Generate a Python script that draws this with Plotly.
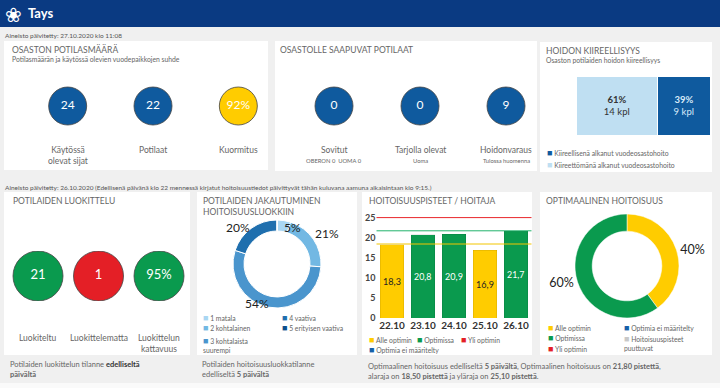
import plotly.graph_objects as go

W, H = 720, 388
def X(px): return px / W
def Y(py): return 1 - py / H

FONT = "Lato, 'Noto Sans', sans-serif"
GREY = "#666666"
DARK = "#333333"
BLUE = "#0f5a9e"
YELLOW = "#ffcc00"
GREEN = "#0a9a4e"
RED = "#e41f26"

# ---------------- data ----------------
header_title = "Tays"
update_top = "Aineisto päivitetty: 27.10.2020 klo 11:08"
update_bottom = ("Aineisto päivitetty: 26.10.2020 (Edellisenä päivänä klo 22 mennessä kirjatut "
                 "hoitoisuustiedot päivittyvät tähän kuluvana aamuna aikaisintaan klo 9:15.)")

load_labels = ["Käytössä<br>olevat sijat", "Potilaat", "Kuormitus"]
beds_in_use = 24
patients = 22
load_values = [str(beds_in_use), str(patients), f"{round(patients / beds_in_use * 100)}%"]

arrive_labels = ["Sovitut", "Tarjolla olevat", "Hoidonvaraus"]
arrive_sublabels = ["OBERON 0  UOMA 0", "Uoma", "Tulossa huomenna"]
arrive_values = [0, 0, 9]

urgency_labels = ["Kiireettömänä alkanut vuodeosastohoito", "Kiireellisenä alkanut vuodeosastohoito"]
urgency_counts = [14, 9]

class_labels = ["Luokiteltu", "Luokittelematta", "Luokittelun<br>kattavuus"]
classified = 21
unclassified = 1
class_values = [str(classified), str(unclassified), f"{round(classified / (classified + unclassified) * 100)}%"]

care_classes = ["1 matala", "2 kohtalainen", "3 kohtalaista suurempi", "4 vaativa", "5 erityisen vaativa"]
care_share = [5, 21, 54, 20, 0]

score_dates = ["22.10", "23.10", "24.10", "25.10", "26.10"]
score_values = [18.3, 20.8, 20.9, 16.9, 21.7]
score_status = ["Alle optimin", "Optimissa", "Optimissa", "Alle optimin", "Optimissa"]
status_names = ["Alle optimin", "Optimissa", "Yli optimin", "Optimia ei määritelty", "Hoitoisuuspisteet puuttuvat"]
optimum, lower_limit, upper_limit = 21.8, 18.5, 25.1

optimal_labels = ["Alle optimin", "Optimissa"]
optimal_days = [2, 3]

# ---------------- styling ----------------
care_colors = ["#a9d6f2", "#72b8e3", "#4a95cd", "#1f6fae", "#0b4f8c"]
care_label_pos = [(292, 227), (327, 233), (257, 303), (238, 227), None]   # label placement (px)
status_colors = {"Alle optimin": YELLOW, "Optimissa": GREEN, "Yli optimin": RED,
                 "Optimia ei määritelty": "#1560a8", "Hoitoisuuspisteet puuttuvat": "#c8c8c8"}
urgency_colors = ["#bfdff2", BLUE]

fig = go.Figure()
shapes = []
ann = []

def rect(x0, y0, x1, y1, color):
    shapes.append(dict(type="rect", xref="paper", yref="paper", x0=X(x0), x1=X(x1),
                       y0=Y(y1), y1=Y(y0), fillcolor=color, line=dict(width=0), layer="below"))

def txt(x, y, text, size=7, color=GREY, xanchor="left", align="left", xref="paper"):
    ann.append(dict(x=x if xref != "paper" else X(x), y=Y(y), xref=xref, yref="paper", text=text,
                    showarrow=False, xanchor=xanchor, yanchor="middle", align=align, borderpad=0,
                    font=dict(size=size, color=color, family=FONT)))

def key(x, y, color, label, size=6.8):
    txt(x, y, f"<span style='color:{color};font-size:9px'>■</span> {label}", size=size, color=GREY)

# background & panels
rect(0, 0, 720, 27, "#0a3a82")
rect(0, 383, 720, 388, "#fafafa")
for p in [(4, 41, 268, 170), (275, 41, 537, 171), (540, 42, 712, 172),
          (4, 192, 190, 355), (197, 192, 357, 355), (362, 192, 532, 355), (540, 192, 712, 355)]:
    rect(*p, "white")

# header
txt(4, 14, "❀", size=20, color="white")
txt(27, 13.5, f"<b>{header_title}</b>", size=13, color="white")
txt(4, 35, update_top, size=6.5, color="#555")
txt(4, 187, update_bottom, size=6.5, color="#555")

# ---- panel 1: load circles ----
fig.add_trace(go.Scatter(x=[0, 1, 2], y=[0, 0, 0], mode="markers+text", text=load_values,
                         textposition="middle center", textfont=dict(color="white", size=12, family=FONT),
                         marker=dict(size=38, color=[BLUE, BLUE, YELLOW], line=dict(color="#444", width=0.8)),
                         xaxis="x", yaxis="y", hoverinfo="skip", showlegend=False))
txt(11, 49, "OSASTON POTILASMÄÄRÄ", size=8.5)
txt(11, 59, "Potilasmäärän ja käytössä olevien vuodepaikkojen suhde", size=6.8)
for i, lab in enumerate(load_labels):
    txt(i, 155 if "<br>" in lab else 150, lab, size=8.5, xanchor="center", align="center", xref="x")

# ---- panel 2: arriving ----
fig.add_trace(go.Scatter(x=[0, 1, 2], y=[0, 0, 0], mode="markers+text", text=[str(v) for v in arrive_values],
                         textposition="middle center", textfont=dict(color="white", size=12, family=FONT),
                         marker=dict(size=38, color=BLUE, line=dict(color="#444", width=0.8)),
                         xaxis="x2", yaxis="y2", hoverinfo="skip", showlegend=False))
txt(279, 50, "OSASTOLLE SAAPUVAT POTILAAT", size=8.5)
for i, (lab, sub) in enumerate(zip(arrive_labels, arrive_sublabels)):
    txt(i, 150.5, lab, size=8.5, xanchor="center", xref="x2")
    txt(i, 160, sub, size=5.8, xanchor="center", xref="x2")

# ---- panel 3: urgency ----
total_urg = sum(urgency_counts)
for i, (lab, cnt) in enumerate(zip(urgency_labels, urgency_counts)):
    fig.add_trace(go.Bar(y=[0], x=[cnt], orientation="h", width=1,
                         marker=dict(color=urgency_colors[i], line=dict(color="white", width=1)),
                         text=[f"<b>{round(cnt / total_urg * 100)}%</b><br>{cnt} kpl"],
                         textposition="inside", insidetextanchor="middle", textangle=0,
                         textfont=dict(size=9.5, color="#333" if i == 0 else "#d6e9f8", family=FONT),
                         xaxis="x3", yaxis="y3", hoverinfo="skip", showlegend=False))
txt(545, 51, "HOIDON KIIREELLISYYS", size=8.5)
txt(545, 60, "Osaston potilaiden hoidon kiireellisyys", size=6.8)
key(546, 153, urgency_colors[1], urgency_labels[1])
key(546, 164, urgency_colors[0], urgency_labels[0])

# ---- panel A: classification ----
fig.add_trace(go.Scatter(x=[0, 1, 2], y=[0, 0, 0], mode="markers+text", text=class_values,
                         textposition="middle center", textfont=dict(color="white", size=13, family=FONT),
                         marker=dict(size=50, color=[GREEN, RED, GREEN], line=dict(color="#444", width=0.8)),
                         xaxis="x4", yaxis="y4", hoverinfo="skip", showlegend=False))
txt(12, 201, "POTILAIDEN LUOKITTELU", size=8.5)
for i, lab in enumerate(class_labels):
    txt(i, 343 if "<br>" in lab else 338, lab, size=8.5, xanchor="center", align="center", xref="x4")
txt(9, 369, "Potilaiden luokittelun tilanne <b style='color:#333'>edelliseltä</b><br><b>päivältä</b>", size=7.5)

# ---- panel B: care class donut ----
tot = sum(care_share)
fig.add_trace(go.Pie(labels=care_classes, values=care_share, sort=False, direction="clockwise", rotation=0,
                     hole=0.75, marker=dict(colors=care_colors, line=dict(color="white", width=1)),
                     textinfo="none",
                     domain=dict(x=[X(233), X(321)], y=[Y(308), Y(220)]), showlegend=False, hoverinfo="skip"))
for v, pos in zip(care_share, care_label_pos):
    if v and pos:
        txt(pos[0], pos[1], f"{round(v / tot * 100)}%", size=12, color="#222", xanchor="center")
txt(202, 206, "POTILAIDEN JAKAUTUMINEN<br>HOITOISUUSLUOKKIIN", size=8.5)
key_pos = [(202, 317), (202, 327), (202, 344), (281, 317), (281, 327)]
for (kx, ky), lab, col in zip(key_pos, care_classes, care_colors):
    lab = lab.replace("kohtalaista suurempi", "kohtalaista<br>suurempi")
    key(kx, ky, col, lab)
txt(201, 369, "Potilaiden hoitoisuusluokkatilanne<br>edelliseltä <b>5 päivältä</b>", size=7.5)

# ---- panel C: score bars ----
for st in status_names[:4]:
    ys = [v if s == st else None for v, s in zip(score_values, score_status)]
    fig.add_trace(go.Bar(x=score_dates, y=ys, width=0.77,
                         marker=dict(color=status_colors[st], line=dict(color="rgba(0,0,0,0.15)", width=0.5)),
                         text=[f"{v:.1f}".replace(".", ",") if v is not None else "" for v in ys],
                         textposition="inside", insidetextanchor="middle", textangle=0,
                         textfont=dict(size=9.5, color="#222" if st == "Alle optimin" else "white", family=FONT),
                         xaxis="x5", yaxis="y5", hoverinfo="skip", showlegend=False))
for val, col in [(upper_limit, "#e8262b"), (optimum, "#22b36c"), (lower_limit, "#f2c500")]:
    shapes.append(dict(type="line", xref="x5 domain", yref="y5", x0=0, x1=1, y0=val, y1=val,
                       line=dict(color=col, width=1)))
txt(368, 201, "HOITOISUUSPISTEET / HOITAJA", size=8.5)
for (kx, ky), st in zip([(368, 339), (416, 339), (460, 339), (368, 349)], status_names[:4]):
    key(kx, ky, status_colors[st], st)
txt(367, 371.5, "Optimaalinen hoitoisuus edelliseltä <b>5 päivältä</b>. Optimaalinen hoitoisuus on "
                f"<b>{optimum:.2f}".replace(".", ",") + " pistettä</b>,<br>alaraja on "
                f"<b>{lower_limit:.2f}".replace(".", ",") + " pistettä</b> ja yläraja on "
                f"<b>{upper_limit:.2f}".replace(".", ",") + " pistettä</b>.", size=7.5)

# ---- panel D: optimal donut ----
tot_d = sum(optimal_days)
fig.add_trace(go.Pie(labels=optimal_labels, values=optimal_days, sort=False, direction="clockwise", rotation=0,
                     hole=0.67, marker=dict(colors=[status_colors[l] for l in optimal_labels],
                                            line=dict(color="white", width=0.5)),
                     text=[f"{round(v / tot_d * 100)}%" for v in optimal_days], textinfo="text",
                     textposition="outside", textfont=dict(size=12.5, color="#222", family=FONT),
                     domain=dict(x=[X(575), X(679)], y=[Y(318), Y(214)]), showlegend=False, hoverinfo="skip"))
txt(545, 201, "OPTIMAALINEN HOITOISUUS", size=8.5)
kd = [(547, 327), (547, 337), (547, 348), (623, 327), (623, 342)]
for (kx, ky), st in zip(kd, status_names):
    key(kx, ky, status_colors[st], st.replace("Hoitoisuuspisteet puuttuvat", "Hoitoisuuspisteet<br>puuttuvat"))

# ---------------- axes ----------------
hidden = dict(visible=False, fixedrange=True)
def dom(a, b, horiz=True):
    return [X(a), X(b)] if horiz else [Y(b), Y(a)]

layout = dict(
    width=W, height=H, margin=dict(l=0, r=0, t=0, b=0, pad=0, autoexpand=False),
    paper_bgcolor="#f0f0f0", plot_bgcolor="rgba(0,0,0,0)",
    font=dict(family=FONT, color=GREY), barmode="stack", showlegend=False,
    xaxis=dict(domain=dom(25, 281), range=[-0.5, 2.5], **hidden),
    yaxis=dict(domain=dom(86, 126, False), range=[-1, 1], **hidden),
    xaxis2=dict(domain=dom(291, 549), range=[-0.5, 2.5], anchor="y2", **hidden),
    yaxis2=dict(domain=dom(86, 126, False), range=[-1, 1], anchor="x2", **hidden),
    xaxis3=dict(domain=dom(576, 710), range=[0, total_urg], anchor="y3", **hidden),
    yaxis3=dict(domain=dom(76, 135, False), range=[-0.5, 0.5], anchor="x3", **hidden),
    xaxis4=dict(domain=dom(7.75, 189.25), range=[-0.5, 2.5], anchor="y4", **hidden),
    yaxis4=dict(domain=dom(251, 301, False), range=[-1, 1], anchor="x4", **hidden),
    xaxis5=dict(domain=dom(376.5, 531.5), type="category", range=[-0.5, 4.5], anchor="y5",
                showgrid=False, showline=False, zeroline=False, ticks="", fixedrange=True, automargin=False,
                tickfont=dict(size=10, color=DARK, family=FONT, weight="bold")),
    yaxis5=dict(domain=dom(210, 318, False), range=[0, 27], anchor="x5", tickvals=[0, 5, 10, 15, 20, 25],
                showgrid=False, showline=False, zeroline=False, ticks="", fixedrange=True, automargin=False,
                tickfont=dict(size=9, color="#444", family=FONT, weight="bold")),
    shapes=shapes, annotations=ann,
)
fig.update_layout(**layout)
fig.write_html("out.html", config={"displayModeBar": False},
               post_script="document.body.style.margin='0';document.body.style.overflow='hidden';")
